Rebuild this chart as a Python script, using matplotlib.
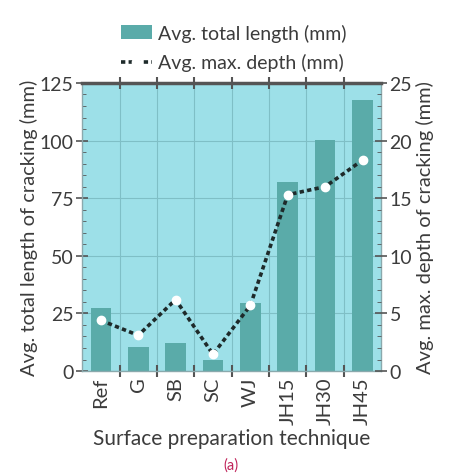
import matplotlib.pyplot as plt
import numpy as np
from matplotlib.ticker import MultipleLocator, FixedLocator

plt.rcParams['font.family'] = ['Lato', 'DejaVu Sans']

# data
techniques = ['Ref', 'G', 'SB', 'SC', 'WJ', 'JH15', 'JH30', 'JH45']
total_length = [27.3, 10.3, 12.0, 4.9, 29.4, 81.9, 100.3, 117.6]
max_depth = [4.4, 3.1, 6.2, 1.45, 5.7, 15.3, 16.0, 18.3]

txt = '#3c3c3c'
fig = plt.figure(figsize=(4.49, 4.77), dpi=100)
ax = fig.add_axes([0.183, 0.22, 0.666, 0.604])
ax.set_facecolor('#9de0e8')

x = np.arange(len(techniques))
bars = ax.bar(x, total_length, width=0.55, color='#5aaba9', zorder=2,
              label='Avg. total length (mm)')
ax.set_xlim(-0.5, len(techniques) - 0.5)
ax.set_ylim(0, 125)
ax.yaxis.set_major_locator(MultipleLocator(25))
ax.yaxis.set_minor_locator(MultipleLocator(5))
ax.xaxis.set_major_locator(FixedLocator(x[:-1] + 0.5))
ax.xaxis.set_minor_locator(FixedLocator(x))
ax.set_xticklabels([], minor=False)
ax.set_xticklabels(techniques, minor=True, rotation=90, fontsize=14.5, color=txt)
ax.tick_params(axis='x', which='minor', length=0, pad=4)
ax.tick_params(axis='x', which='major', direction='inout', length=8, width=1.5,
               color='#555555', top=True)
ax.tick_params(axis='y', which='major', direction='inout', length=8, width=1.2,
               color='#555555', labelsize=14, labelcolor=txt, pad=2)
ax.tick_params(axis='y', which='minor', direction='in', length=3, color='#555555')
ax.grid(True, which='major', color='#7fbfc6', linewidth=0.8, zorder=0)
ax.set_axisbelow(True)
for s in ['left', 'right', 'bottom']:
    ax.spines[s].set_color('#8aa9ad')
    ax.spines[s].set_linewidth(1)
ax.spines['top'].set_color('#555555')
ax.spines['top'].set_linewidth(2.5)
ax.set_ylabel('Avg. total length of cracking (mm)', fontsize=14.5, color=txt, labelpad=1)
ax.set_xlabel('Surface preparation technique', fontsize=15, color=txt, labelpad=3)

ax2 = ax.twinx()
line, = ax2.plot(x, max_depth, linestyle=(0, (1.2, 0.9)), color='#1e2a2a', linewidth=2.6,
                 marker='o', markersize=6, markerfacecolor='white',
                 markeredgecolor='white', zorder=3, label='Avg. max. depth (mm)')
ax2.set_ylim(0, 25)
ax2.yaxis.set_major_locator(MultipleLocator(5))
ax2.yaxis.set_minor_locator(MultipleLocator(1))
ax2.tick_params(axis='y', which='major', direction='inout', length=8, width=1.2,
                color='#555555', labelsize=14, labelcolor=txt, pad=2)
ax2.tick_params(axis='y', which='minor', direction='in', length=3, color='#555555')
for s in ax2.spines.values():
    s.set_visible(False)
ax2.set_ylabel('Avg. max. depth of cracking (mm)', fontsize=14.5, color=txt, labelpad=3)

fig.legend([bars, line], ['Avg. total length (mm)', 'Avg. max. depth (mm)'],
           loc='upper center', bbox_to_anchor=(0.52, 0.985), frameon=False,
           fontsize=14, labelcolor=txt, handlelength=1.6, handletextpad=0.3,
           labelspacing=0.6)
fig.text(0.515, 0.015, '(a)', color='#c0245a', fontsize=10.5, ha='center')

fig.savefig('out.png', dpi=100)
